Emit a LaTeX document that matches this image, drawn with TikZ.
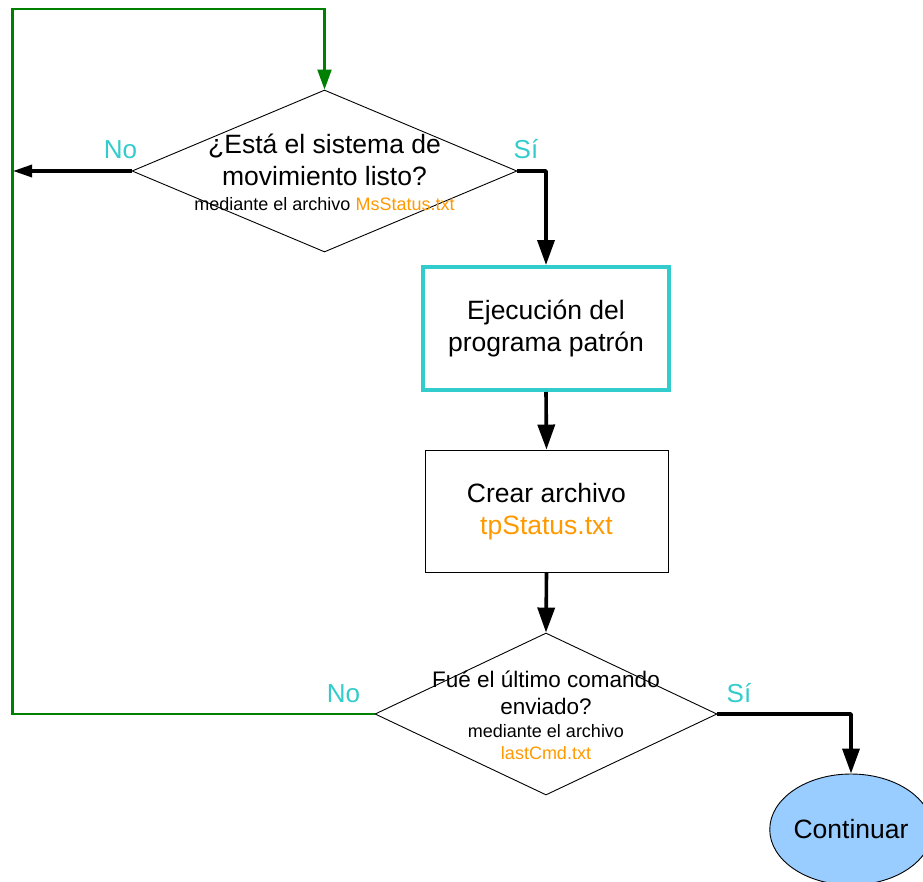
\documentclass[tikz,border=0pt]{standalone}
\usepackage{fontspec}
\setmainfont{Liberation Sans}
\usetikzlibrary{shapes.geometric,arrows.meta}
\definecolor{flowcyan}{HTML}{33CCCC}
\definecolor{fileorange}{HTML}{FF9900}
\definecolor{loopgreen}{HTML}{008000}
\definecolor{endblue}{HTML}{99CCFF}
\newcommand{\smalltxt}{\fontsize{18}{22}\selectfont}
\begin{document}
\begin{tikzpicture}[x=1pt,y=-1pt,
  decision/.style={diamond, draw=black, line width=0.9pt, inner sep=0pt},
  process/.style={rectangle, draw=black, line width=0.9pt, inner sep=0pt},
  bigtext/.style={font=\fontsize{26.5}{32}\selectfont, align=center, inner sep=0pt},
  midtext/.style={font=\fontsize{22.5}{27}\selectfont, align=center, inner sep=0pt},
  answer/.style={font=\fontsize{26}{31}\selectfont, text=flowcyan, inner sep=0pt, anchor=base},
  flow/.style={draw=black, line width=3.6pt, line join=round,
    -{Triangle[length=25pt,width=17pt]}},
  loop/.style={draw=loopgreen, line width=2.2pt,
    -{Triangle[length=20pt,width=14pt]}}]
\useasboundingbox (0,0) rectangle (923,881);

% shapes
\node[decision, minimum width=385pt, minimum height=162pt] (d1) at (324.5,171) {};
\node[bigtext] (d1txt) at (324.5,172) {¿Está el sistema de\\movimiento listo?\\[-7pt]{\smalltxt mediante el archivo \textcolor{fileorange}{MsStatus.txt}}};

\node[process, draw=flowcyan, line width=4pt, minimum width=246pt, minimum height=123pt] (b1) at (546,328.5) {};
\node[bigtext] (b1txt) at (b1.center) {Ejecución del\\programa patrón};

\node[process, minimum width=243pt, minimum height=122pt] (b2) at (546.5,511) {};
\node[bigtext] (b2txt) at (546.5,512) {Crear archivo\\\textcolor{fileorange}{tpStatus.txt}};

\node[decision, minimum width=342pt, minimum height=162pt] (d2) at (546,714) {};
\node[midtext] (d2txt) at (546,715) {Fué el último comando\\enviado?\\[-4pt]{\smalltxt mediante el archivo}\\[-5pt]{\smalltxt\textcolor{fileorange}{lastCmd.txt}}};

\node[ellipse, draw=black, line width=0.9pt, fill=endblue, minimum width=162pt, minimum height=111pt,
  inner sep=0pt, font=\fontsize{26.5}{32}\selectfont] (fin) at (851,829.5) {Continuar};

% branch labels
\node[answer] (no1) at (120.5,158) {No};
\node[answer] (si1) at (526,158) {Sí};
\node[answer] (no2) at (343.5,702) {No};
\node[answer] (si2) at (739,702) {Sí};

% connectors
\coordinate (rail) at (12.5,9);
\coordinate (noend) at (13,171);
\draw[loop] (d2.west) -| (rail) -| (d1.north);
\draw[flow, line width=3.3pt, -{Triangle[length=19pt,width=12pt]}] (d1.west) -- (noend);
\draw[flow] (d1.east) -| (b1.north);
\draw[flow] (b1.south) -- (b2.north);
\draw[flow] (b2.south) -- (d2.north);
\draw[flow] (d2.east) -| (fin.north);
\end{tikzpicture}
\end{document}
